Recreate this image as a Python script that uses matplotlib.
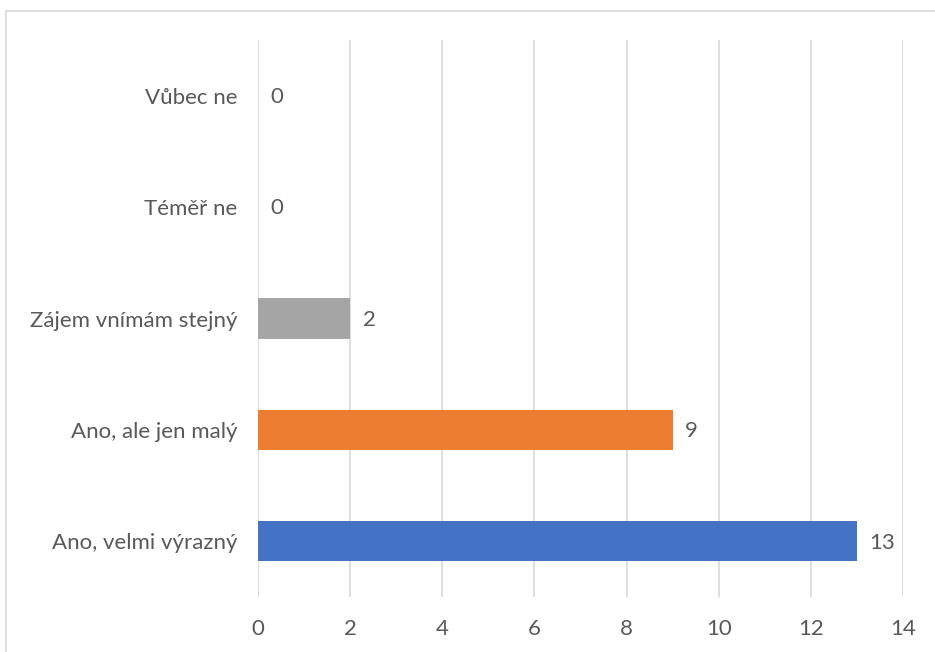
import matplotlib.pyplot as plt
from matplotlib.patches import Rectangle

categories = ["Ano, velmi výrazný", "Ano, ale jen malý", "Zájem vnímám stejný", "Téměř ne", "Vůbec ne"]
counts = [13, 9, 2, 0, 0]
colors = ["#4472C4", "#ED7D31", "#A5A5A5", "#FFC000", "#5B9BD5"]
xticks = [0, 2, 4, 6, 8, 10, 12, 14]

plt.rcParams['font.family'] = ['Lato', 'DejaVu Sans']
txt = "#595959"
fs = 16

fig = plt.figure(figsize=(9.35, 6.52), dpi=100)
W, H = 935, 652
ax = fig.add_axes([258 / W, 1 - 597 / H, (903 - 258) / W, (597 - 40) / H])

# outer chart frame, partly off the canvas
fig.patches.append(Rectangle((6 / W, -0.1), 1.1, 1 - 11 / H + 0.1, transform=fig.transFigure,
                             fill=False, edgecolor="#D9D9D9", linewidth=1.2, clip_on=False))

y = range(len(categories))
ax.barh(y, counts, height=0.36, color=colors, zorder=3)
for yi, v in zip(y, counts):
    ax.annotate(str(v), (v, yi), xytext=(9, -1), textcoords="offset points",
                va="center", ha="left", fontsize=fs, color=txt)

ax.set_xlim(0, 14)
ax.set_ylim(-0.5, 4.5)
ax.set_xticks(xticks)
ax.set_yticks(list(y))
ax.set_yticklabels(categories)
ax.tick_params(axis="both", length=0, labelsize=fs, labelcolor=txt)
ax.tick_params(axis="y", pad=15)
ax.tick_params(axis="x", pad=16)
ax.grid(axis="x", color="#D9D9D9", linewidth=1.2, zorder=0)
for s in ax.spines.values():
    s.set_visible(False)

fig.savefig("out.png", dpi=100)
